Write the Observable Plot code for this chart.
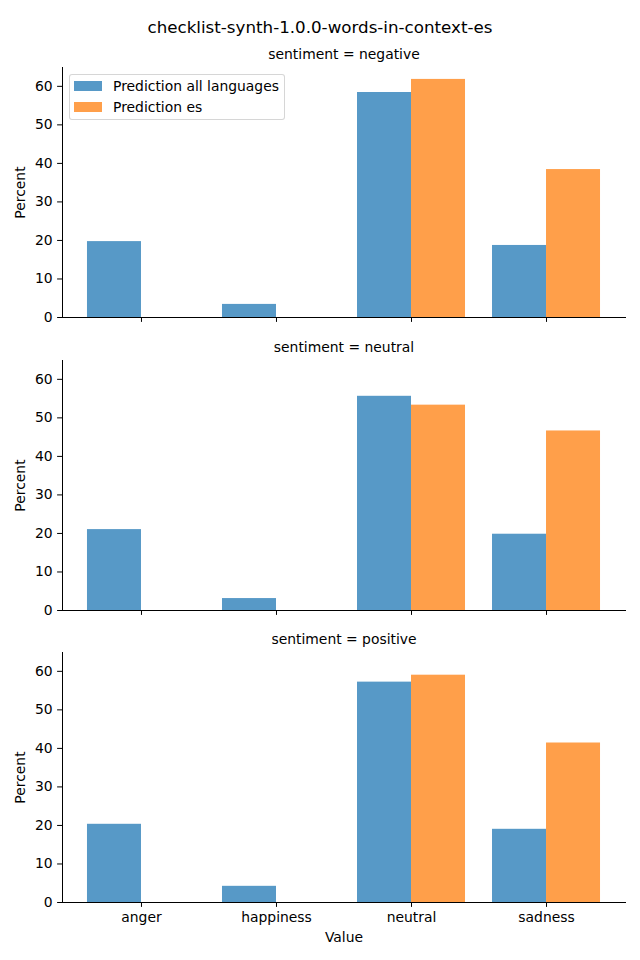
<!DOCTYPE html>
<html><head><meta charset="utf-8">
<script src="https://cdn.jsdelivr.net/npm/d3@7"></script>
<script src="https://cdn.jsdelivr.net/npm/@observablehq/plot@0.6"></script>
<style>
html,body{margin:0;padding:0;background:#fff;}
#root{position:relative;width:640px;height:960px;font-family:"DejaVu Sans",sans-serif;color:#000;overflow:hidden;}
#title{height:40px;box-sizing:border-box;padding-top:17px;line-height:20px;font-size:16.7px;text-align:center;white-space:nowrap;}
#root svg{display:block;}
#legend{position:absolute;left:69px;top:74px;width:216px;height:46px;box-sizing:border-box;border:1px solid rgba(204,204,204,0.8);border-radius:3px;background:rgba(255,255,255,0.8);font-size:13.9px;}
#legend .sw{position:absolute;left:4px;width:28px;height:10px;}
#legend .lb{position:absolute;left:43px;line-height:16px;white-space:nowrap;}
</style></head><body><div id="root"><div id="title"></div></div>
<script>
const figureTitle = "checklist-synth-1.0.0-words-in-context-es";
const categories = ["anger", "happiness", "neutral", "sadness"];
const seriesNames = ["Prediction all languages", "Prediction es"];
const sentiments = ["negative", "neutral", "positive"];
const negativeAll = [19.7, 3.4, 58.4, 18.7];
const negativeEs = [0, 0, 61.8, 38.4];
const neutralAll = [21.0, 3.1, 55.6, 19.8];
const neutralEs = [0, 0, 53.3, 46.6];
const positiveAll = [20.3, 4.2, 57.2, 19.0];
const positiveEs = [0, 0, 59.0, 41.4];
const yTicks = [0, 10, 20, 30, 40, 50, 60];
const seriesColors = ["#5799c7", "#ff9f4a"];

const panelValues = {
  negative: [negativeAll, negativeEs],
  neutral: [neutralAll, neutralEs],
  positive: [positiveAll, positiveEs]
};
const yMax = d3.max(Object.values(panelValues).flat(2)) * 1.05;
const barWidth = 0.8 / seriesNames.length;
const xPad = 0.585;

const root = document.getElementById("root");
document.getElementById("title").textContent = figureTitle;

const panelLayout = [
  {height: 292, marginTop: 27, marginBottom: 15},
  {height: 293, marginTop: 28, marginBottom: 15},
  {height: 335, marginTop: 27, marginBottom: 58}
];

sentiments.forEach((sent, p) => {
  const bottom = p === sentiments.length - 1;
  const rows = [];
  panelValues[sent].forEach((vals, s) => {
    vals.forEach((v, i) => rows.push({cat: categories[i], i, s, series: seriesNames[s], value: v}));
  });
  const L = panelLayout[p];
  const svg = Plot.plot({
    width: 640,
    height: L.height,
    marginLeft: 62,
    marginRight: 15,
    marginTop: L.marginTop,
    marginBottom: L.marginBottom,
    style: {fontFamily: "DejaVu Sans, sans-serif", fontSize: "13.9px", color: "#000", background: "#fff", overflow: "visible"},
    x: {
      type: "linear",
      domain: [-xPad, categories.length - 1 + xPad],
      ticks: categories.map((c, i) => i),
      tickFormat: bottom ? (i => categories[i]) : (() => ""),
      tickSize: 4.9,
      tickPadding: 4.9,
      label: bottom ? "Value" : null,
      labelAnchor: "center",
      labelOffset: 39,
      labelArrow: "none",
      line: true
    },
    y: {
      domain: [0, yMax],
      ticks: yTicks,
      tickSize: 4.9,
      tickPadding: 4.9,
      label: "Percent",
      labelAnchor: "center",
      labelOffset: 47,
      labelArrow: "none",
      line: true
    },
    color: {domain: seriesNames, range: seriesColors},
    marks: [
      Plot.rectY(rows, {
        x1: d => d.i - 0.4 + d.s * barWidth,
        x2: d => d.i - 0.4 + (d.s + 1) * barWidth,
        y: "value",
        fill: "series"
      }),
      Plot.ruleY([0], {stroke: "#000", strokeWidth: 1.1}),
      Plot.text([`sentiment = ${sent}`], {text: d => d, frameAnchor: "top", dy: -13, lineAnchor: "middle", fontSize: 13.9, fill: "#000"})
    ]
  });
  root.appendChild(svg);
});

// legend inside first panel
const legend = document.createElement("div");
legend.id = "legend";
seriesNames.forEach((name, s) => {
  const sw = document.createElement("div");
  sw.className = "sw";
  sw.style.top = (6 + s * 21) + "px";
  sw.style.background = seriesColors[s];
  const lb = document.createElement("div");
  lb.className = "lb";
  lb.style.top = (3 + s * 21) + "px";
  lb.textContent = name;
  legend.appendChild(sw);
  legend.appendChild(lb);
});
root.appendChild(legend);
</script>
</body></html>
